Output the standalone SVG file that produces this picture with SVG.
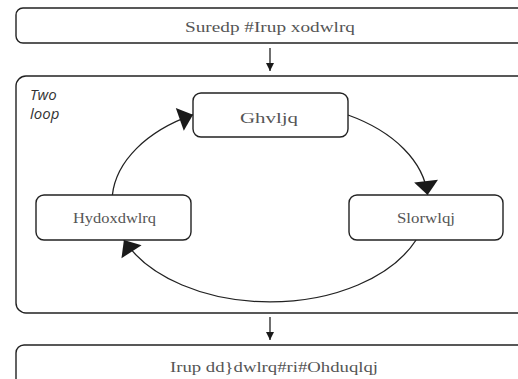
<svg xmlns="http://www.w3.org/2000/svg" width="518" height="379" viewBox="0 0 518 379">
<defs>
<style>
.box{fill:#fff;stroke:#222;stroke-width:1.4}
.lbl{font-family:"Liberation Serif","Times New Roman",serif;font-size:15px;fill:#555}
.conn{fill:none;stroke:#222;stroke-width:1.3}
.note{font-family:"Open Sans",sans-serif;font-style:italic;font-size:15px;fill:#333}
</style>
<marker id="big" markerUnits="userSpaceOnUse" viewBox="-15 -13 16 26" markerWidth="16" markerHeight="26" refX="0" refY="0" orient="auto">
<path d="M0,0 L-14,-12 L-14,12 z" fill="#1a1a1a"/>
</marker>
<marker id="small" markerUnits="userSpaceOnUse" viewBox="-9 -5 10 10" markerWidth="10" markerHeight="10" refX="0" refY="0" orient="auto">
<path d="M0,0 L-8,-4 L-8,4 z" fill="#1a1a1a"/>
</marker>
</defs>
<g id="container">
<rect class="box" x="16" y="76" width="530" height="237" rx="10"/>
<text class="note" x="30" y="100">Two</text>
<text class="note" x="30" y="119">loop</text>
</g>
<g id="connectors">
<line class="conn" x1="270" y1="48" x2="270" y2="71" marker-end="url(#small)"/>
<line class="conn" x1="270" y1="317" x2="270" y2="340" marker-end="url(#small)"/>
<path class="conn" d="M112.4,195 A158,100 0 0 1 193,114.7" marker-end="url(#big)"/>
<path class="conn" d="M348,115 A158,100 0 0 1 427.6,195" marker-end="url(#big)"/>
<path class="conn" d="M416.1,240 A158,100 0 0 1 123.9,240" marker-end="url(#big)"/>
</g>
<g id="problem-formulation">
<rect class="box" x="16" y="8" width="530" height="35" rx="7"/>
<text class="lbl" x="185" y="32" textLength="170" lengthAdjust="spacingAndGlyphs">Suredp #Irup xodwlrq</text>
</g>
<g id="design">
<rect class="box" x="193" y="93" width="155" height="44" rx="8"/>
<text class="lbl" x="240" y="123" textLength="58" lengthAdjust="spacingAndGlyphs">Ghvljq</text>
</g>
<g id="evaluation">
<rect class="box" x="36" y="195" width="155" height="45" rx="8"/>
<text class="lbl" x="73" y="223" textLength="83" lengthAdjust="spacingAndGlyphs">Hydoxdwlrq</text>
</g>
<g id="piloting">
<rect class="box" x="349" y="195" width="154" height="45" rx="8"/>
<text class="lbl" x="397" y="223" textLength="58" lengthAdjust="spacingAndGlyphs">Slorwlqj</text>
</g>
<g id="formalization">
<rect class="box" x="16" y="345" width="530" height="45" rx="8"/>
<text class="lbl" x="170" y="372" textLength="208" lengthAdjust="spacingAndGlyphs">Irup dd}dwlrq#ri#Ohduqlqj</text>
</g>
</svg>
